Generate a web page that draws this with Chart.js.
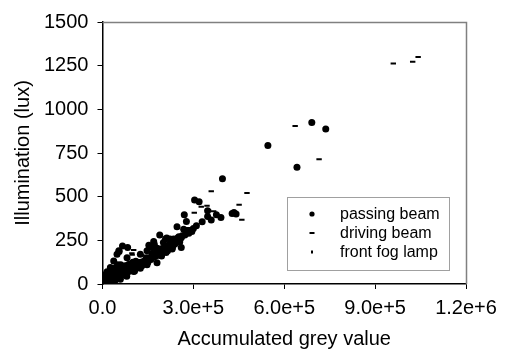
<!DOCTYPE html>
<html>
<head>
<meta charset="utf-8">
<script src="https://cdn.jsdelivr.net/npm/chart.js@4.4.1/dist/chart.umd.min.js"></script>
<style>
html,body{margin:0;padding:0;background:#fff;}
#wrap{width:505px;height:351px;position:relative;}
</style>
</head>
<body>
<div id="wrap"><canvas id="c"></canvas></div>
<script>
// ---- data ----
const xTickLabels = ['0.0', '3.0e+5', '6.0e+5', '9.0e+5', '1.2e+6'];
const yTickLabels = ['0', '250', '500', '750', '1000', '1250', '1500'];
const seriesNames = ['passing beam', 'driving beam', 'front fog lamp'];

const passingBeam = [
  [546000,793],[691000,924],[737000,887],[642000,668],[396000,602],
  [304000,481],[319000,471],[347000,420],[347000,387],[376000,397],[391000,381],[428000,404],[441000,401],[434000,409],
  [359000,366],[329000,356],[270000,397],[277000,358],[310000,333],[246000,328],[268000,314],[282000,301],[293000,308],
  [300000,318],[288000,305],[235000,257],[252000,270],[263000,276],[260000,209],[248000,263],[227000,243],[208000,257],
  [219000,222],[189000,280],[169000,243],[153000,222],[180000,205],[180000,122],[212000,263],[223000,257],[201000,237],
  [221000,224],[231000,209],[171000,228],[163000,209],[66000,218],[83000,209],[55000,186],[106000,75],
  [9000,27],[15000,22],[20000,35],[25000,30],[31000,46],[35000,40],[40000,55],[45000,48],[53000,65],[58000,58],
  [63000,72],[70000,80],[75000,84],[80000,76],[88000,95],[97000,103],[103000,96],[110000,112],[119000,117],[125000,110],
  [132000,128],[141000,136],[148000,130],[155000,150],[163000,161],[170000,155],[178000,172],[185000,180],[192000,175],
  [200000,190],[207000,199],[215000,210],[222000,220],[228000,228],[240000,245],[251000,257],
  [20000,8],[40000,15],[59000,27],[80000,45],[103000,72],[125000,90],[147000,110],
  [15000,56],[26000,94],[37000,132],[48000,171],[54000,190],[81000,151],[125000,171],[147000,190],
  [5000,10],[8000,5],[12000,18],[18000,25],[22000,45],[28000,60],[33000,70],[38000,85],[44000,95],[50000,110],
  [10000,40],[5000,30],[15000,70],[25000,20],[40000,30],[60000,45],[70000,60],[85000,70],[95000,85],[65000,90],
  [75000,105],[90000,115],[100000,125],[115000,100],[135000,115],[145000,150],[160000,140],[170000,175],[190000,200],
  [195000,160],[210000,180],[230000,200],[240000,230],[255000,240],
  [110000,130],[120000,100],[130000,105],[140000,120],[150000,125],[160000,150],[165000,175],[175000,160],
  [185000,165],[195000,185],[205000,215],[215000,190],[225000,210],[235000,225],[245000,250],[260000,265],
  [272000,280],[285000,290],[295000,300],[35000,20],[50000,40],[65000,55],[70000,100],[85000,110],[95000,100],
  [30000,80],[20000,60],[10000,55],[2000,15],[45000,75],[55000,80],[60000,110],[100000,110]
];

const drivingBeam = [
  [960000,1262],[1024000,1272],[1042000,1300],[636000,904],[715000,714],[359000,531],[477000,521],[345000,448],
  [326000,442],[303000,408],[451000,454],[367000,416],[350000,424],[460000,368],[103000,194],[98000,167],[97000,176],
  [130000,165],[150000,150],[200000,215],[250000,262],[120000,138],[60000,70],[30000,40],[10000,15],[280000,320],
  [180000,190],[80000,100],[45000,55],[20000,30]
];

const frontFogLamp = [
  [2000,3],[5000,8],[8000,12],[12000,15],[15000,20],[18000,22],[22000,28],[25000,33],[30000,38],[35000,42],
  [40000,50],[45000,52],[50000,60],[6000,20],[10000,25],[3000,10],[14000,30],[20000,40]
];

const toPts = arr => arr.map(p => ({x: p[0], y: p[1]}));
const FONT = '"Liberation Sans", Arial, sans-serif';
Chart.defaults.font.family = FONT;
Chart.defaults.color = '#000';

const frameAndLegend = {
  id: 'frameAndLegend',
  beforeDatasetsDraw(chart) {
    const {ctx, chartArea: a} = chart;
    ctx.save();
    ctx.strokeStyle = '#808080';
    ctx.lineWidth = 1.5;
    ctx.beginPath();
    ctx.moveTo(a.left, a.top + 0.5);
    ctx.lineTo(a.right + 0.5, a.top + 0.5);
    ctx.lineTo(a.right + 0.5, a.bottom);
    ctx.stroke();
    ctx.restore();
  },
  afterDraw(chart) {
    const ctx = chart.ctx;
    const bx = 287, by = 197, bw = 162, bh = 73;
    ctx.save();
    ctx.fillStyle = '#fff';
    ctx.fillRect(bx, by, bw, bh);
    ctx.strokeStyle = '#a0a0a0';
    ctx.lineWidth = 1;
    ctx.strokeRect(bx + 0.5, by + 0.5, bw, bh);
    const rows = [214, 233, 252];
    const mx = 312;
    ctx.fillStyle = '#000';
    // marker: passing beam (dot)
    ctx.beginPath(); ctx.arc(mx, rows[0], 2.6, 0, Math.PI * 2); ctx.fill();
    // driving beam (short dash)
    ctx.fillRect(mx - 2.5, rows[1] - 1, 5, 2);
    // fog lamp (tiny vertical)
    ctx.fillRect(mx - 1, rows[2] - 1.5, 2, 3);
    ctx.font = '16px ' + FONT;
    ctx.textBaseline = 'middle';
    ctx.textAlign = 'left';
    chart.data.datasets.forEach((d, i) => ctx.fillText(d.label, 340, rows[i] + 1));
    ctx.restore();
  }
};

new Chart(document.getElementById('c'), {
  type: 'scatter',
  data: {
    datasets: [
      {label: seriesNames[0], data: toPts(passingBeam), pointStyle: 'circle', pointRadius: 3.5,
       backgroundColor: '#000', borderColor: '#000', borderWidth: 0},
      {label: seriesNames[1], data: toPts(drivingBeam), pointStyle: 'line', pointRadius: 2.7,
       backgroundColor: '#000', borderColor: '#000', borderWidth: 2},
      {label: seriesNames[2], data: toPts(frontFogLamp), pointStyle: 'line', rotation: 90, pointRadius: 1.5,
       backgroundColor: '#000', borderColor: '#000', borderWidth: 2}
    ]
  },
  options: {
    responsive: true,
    maintainAspectRatio: false,
    animation: false,
    events: [],
    layout: {padding: {left: 0, right: 39, top: 22, bottom: 0}},
    plugins: {legend: {display: false}, tooltip: {enabled: false}},
    scales: {
      x: {
        type: 'linear', min: 0, max: 1200000,
        border: {display: true, color: '#000', width: 1.5},
        grid: {drawOnChartArea: false, drawTicks: true, tickLength: 5, color: '#000', lineWidth: 1},
        ticks: {stepSize: 300000, padding: 7, font: {size: 20}, color: '#000', maxRotation: 0,
                callback: (v, i) => xTickLabels[i]},
        title: {display: true, text: 'Accumulated grey value', font: {size: 20}, color: '#000',
                padding: {top: 0, bottom: 0}}
      },
      y: {
        type: 'linear', min: 0, max: 1500,
        border: {display: true, color: '#000', width: 1.5},
        grid: {drawOnChartArea: false, drawTicks: true, tickLength: 5, color: '#000', lineWidth: 1},
        ticks: {stepSize: 250, padding: 9, font: {size: 20}, color: '#000',
                callback: (v, i) => yTickLabels[i]},
        title: {display: true, text: 'Illumination (lux)', font: {size: 20}, color: '#000',
                padding: {top: 11, bottom: 0}}
      }
    }
  },
  plugins: [frameAndLegend]
});
</script>
</body>
</html>
